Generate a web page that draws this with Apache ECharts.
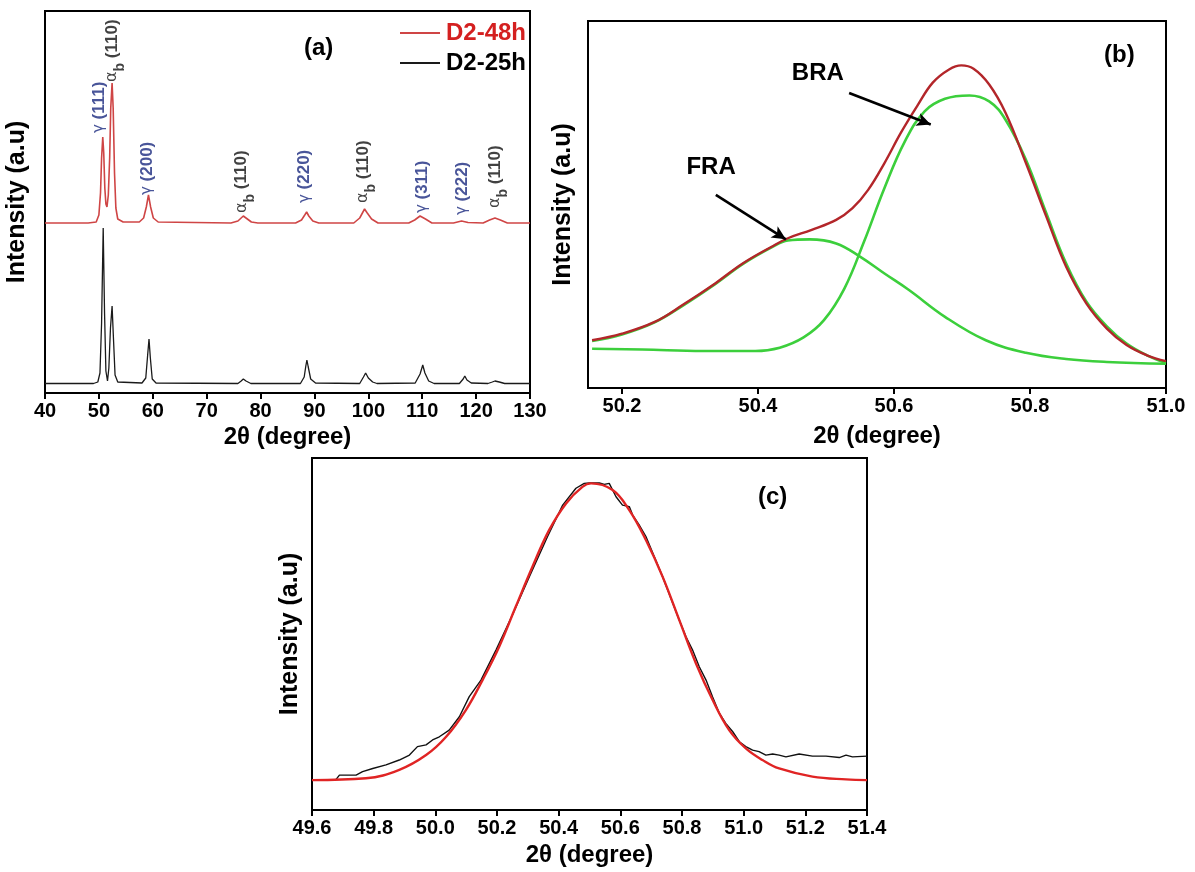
<!DOCTYPE html>
<html>
<head>
<meta charset="utf-8">
<title>XRD</title>
<script src="https://cdn.jsdelivr.net/npm/echarts@6/dist/echarts.min.js"></script>
<style>
  html, body { margin: 0; padding: 0; background: #fff; }
  #chart { width: 1195px; height: 872px; }
</style>
</head>
<body>
<div id="chart"></div>
<script>
// (a) XRD patterns, [2theta, intensity] with the 48h curve shifted up
const d2_48h = [[40,170],[48,170],[49.5,171],[50.0,178],[50.3,200],[50.5,235],[50.72,256],[50.9,240],[51.1,205],[51.3,189],[51.5,186],[51.75,198],[52.0,235],[52.2,285],[52.45,310],[52.65,285],[52.9,220],[53.15,185],[53.5,174],[54.5,171],[57.5,171],[58.3,175],[58.8,186],[59.2,198],[59.6,186],[60.1,175],[61,171],[74.5,170],[75.8,172],[76.4,175],[76.8,177],[77.3,175],[78.3,171],[79.5,170],[86.5,170],[87.6,173],[88.2,178],[88.55,181],[88.95,177],[89.7,172],[90.8,170],[97.3,170],[98.4,175],[99.0,181],[99.3,184],[99.8,180],[100.6,174],[101.8,170],[107.5,170],[108.6,173],[109.6,177],[110.6,174],[111.8,170],[115.8,170],[117.3,172],[118.5,170.5],[121.3,170],[122.5,173],[123.5,175],[124.5,173],[125.8,170],[130,170]];
const d2_25h = [[40,9.5],[49,9.5],[49.8,11],[50.2,20],[50.5,70],[50.8,165],[51.05,80],[51.3,22],[51.6,12],[51.85,25],[52.15,65],[52.45,87],[52.7,55],[53.0,18],[53.5,11],[58,10],[58.7,15],[59.05,38],[59.3,54],[59.55,35],[59.9,14],[60.6,10],[75.8,9.5],[76.4,12],[76.8,14],[77.3,12],[78.2,9.5],[87.4,9.5],[88.1,16],[88.4,27],[88.6,33],[88.85,26],[89.3,14],[90.2,10],[98.4,9.5],[99.1,16],[99.5,20],[100,15],[100.8,11],[101.6,9.5],[108.7,10],[109.6,19],[110.1,28],[110.5,20],[111.2,12],[112.2,9.5],[116.9,9.5],[117.6,14],[117.9,17],[118.3,13],[119.1,10],[122.2,9.5],[123.0,11],[123.5,12],[124.3,11],[125.3,9.5],[130,9.5]];

// peak labels: 2theta, foot of the label, phase, plane
const peakX = [50.0, 52.4, 58.9, 76.5, 88.2, 99.0, 110.0, 117.4, 123.5];
const peakY = [260, 311, 198, 180, 190, 190, 180, 178, 185];
const peakPhase = ['g', 'a', 'g', 'a', 'g', 'a', 'g', 'g', 'a'];
const peakPlane = ['(111)', '(110)', '(200)', '(110)', '(220)', '(110)', '(311)', '(222)', '(110)'];

// (b) peak separation
const bTotal = [[50.156,13.0],[50.200,14.8],[50.248,18.0],[50.289,22.6],[50.337,28.5],[50.378,34.0],[50.420,38.5],[50.444,40.8],[50.479,43.1],[50.515,45.8],[50.539,49.0],[50.562,54.0],[50.586,61.3],[50.610,69.5],[50.634,76.8],[50.657,83.2],[50.681,86.8],[50.699,87.9],[50.717,87.0],[50.740,82.7],[50.764,75.0],[50.794,61.3],[50.824,46.7],[50.853,33.1],[50.883,23.0],[50.913,16.2],[50.942,11.7],[50.972,8.9],[51.000,7.3]];
const bFRA = [[50.156,12.8],[50.200,14.6],[50.248,17.9],[50.289,22.4],[50.337,28.3],[50.378,33.8],[50.420,38.3],[50.444,40.2],[50.476,40.5],[50.515,39.4],[50.550,35.8],[50.586,31.2],[50.622,26.7],[50.675,19.4],[50.735,13.0],[50.794,9.6],[50.853,7.9],[50.913,7.1],[51.000,6.6]];
const bBRA = [[50.156,10.7],[50.230,10.5],[50.319,10.1],[50.396,10.1],[50.432,11.0],[50.467,13.8],[50.497,18.5],[50.527,27.1],[50.556,39.9],[50.586,54.5],[50.616,67.2],[50.645,75.4],[50.675,78.8],[50.711,79.7],[50.740,78.1],[50.764,73.1],[50.794,62.2],[50.824,47.6],[50.853,34.0],[50.883,23.5],[50.913,16.8],[50.942,12.1],[50.972,8.9],[51.000,6.8]];
const ticksB = [50.2, 50.4, 50.6, 50.8, 51.0];

// (c) measured profile and fit
const cMeasured = [[49.600,8.5],[49.678,8.7],[49.689,9.9],[49.743,9.9],[49.764,10.9],[49.797,11.8],[49.840,12.8],[49.883,14.2],[49.916,15.6],[49.942,18.0],[49.970,18.5],[49.991,19.9],[50.013,20.8],[50.045,22.7],[50.078,26.5],[50.110,32.2],[50.148,36.9],[50.197,45.5],[50.250,55.4],[50.305,66.3],[50.364,77.7],[50.413,86.6],[50.456,91.4],[50.483,92.8],[50.499,92.9],[50.532,92.9],[50.548,92.5],[50.564,92.8],[50.586,89.0],[50.607,86.6],[50.629,86.2],[50.640,83.8],[50.661,81.0],[50.683,77.7],[50.737,66.3],[50.791,54.0],[50.813,49.2],[50.834,45.5],[50.856,40.7],[50.878,36.9],[50.899,32.2],[50.921,27.5],[50.942,24.6],[50.964,22.3],[50.986,19.4],[51.007,18.0],[51.029,17.0],[51.050,16.6],[51.072,15.6],[51.094,15.9],[51.115,15.6],[51.137,15.1],[51.180,15.9],[51.223,15.3],[51.267,15.3],[51.310,14.9],[51.332,15.6],[51.353,15.1],[51.400,15.3]];
const cFit = [[49.600,8.5],[49.775,9.0],[49.883,11.4],[49.970,15.6],[50.035,20.8],[50.099,28.4],[50.153,36.9],[50.207,46.4],[50.261,57.8],[50.315,69.1],[50.369,79.5],[50.424,87.1],[50.477,91.8],[50.505,92.8],[50.575,90.9],[50.629,85.2],[50.683,76.7],[50.737,66.3],[50.791,54.0],[50.845,41.7],[50.899,31.3],[50.953,22.7],[51.007,17.5],[51.061,14.2],[51.115,11.8],[51.223,9.5],[51.332,8.7],[51.400,8.5]];

const FONT = "'Liberation Sans', Arial, sans-serif";
const CLEAR = 'rgba(0,0,0,0)';
const chart = echarts.init(document.getElementById('chart'));

function xAxisBase(gridIndex, min, max) {
  return {
    type: 'value', gridIndex: gridIndex, min: min, max: max,
    name: '2θ (degree)', nameLocation: 'middle', nameGap: 32,
    nameTextStyle: { fontFamily: FONT, fontWeight: 'bold', fontSize: 24, color: '#000' },
    axisLine: { show: true, onZero: false, lineStyle: { color: '#000', width: 2 } },
    axisTick: { show: true, inside: false, length: 6, lineStyle: { color: '#000', width: 2 } },
    axisLabel: { margin: 8, fontFamily: FONT, fontWeight: 'bold', fontSize: 20, color: '#000' },
    splitLine: { show: false }
  };
}
function yAxisBase(gridIndex, min, max, gap) {
  return {
    type: 'value', gridIndex: gridIndex, min: min, max: max,
    name: 'Intensity (a.u)', nameLocation: 'middle', nameGap: gap,
    nameTextStyle: { fontFamily: FONT, fontWeight: 'bold', fontSize: 25, color: '#000' },
    axisLine: { show: false }, axisTick: { show: false }, axisLabel: { show: false },
    splitLine: { show: false }
  };
}
const gridBox = { show: true, borderColor: '#000', borderWidth: 2, backgroundColor: 'transparent' };

const xA = xAxisBase(0, 40, 130);
xA.interval = 10;
const xB = xAxisBase(1, 50.15, 51.0);
xB.axisLabel.customValues = ticksB;
xB.axisTick.customValues = ticksB;
xB.axisLabel.formatter = v => v.toFixed(1);
xB.nameGap = 36;
const xC = xAxisBase(2, 49.6, 51.4);
xC.interval = 0.2;
xC.axisLabel.formatter = v => v.toFixed(1);
xC.nameGap = 33;

const labelData = peakX.map((x, i) => ({
  value: [x, peakY[i]],
  label: {
    formatter: peakPhase[i] === 'g'
      ? '{g|γ}{n| ' + peakPlane[i] + '}'
      : '{a|α}{s|b}{k| ' + peakPlane[i] + '}'
  }
}));

chart.setOption({
  animation: false,
  textStyle: { fontFamily: FONT },
  grid: [
    Object.assign({ left: 45, top: 11, width: 485, height: 382 }, gridBox),
    Object.assign({ left: 588, top: 21, width: 578, height: 367 }, gridBox),
    Object.assign({ left: 312, top: 458, width: 555, height: 352 }, gridBox)
  ],
  xAxis: [xA, xB, xC],
  yAxis: [yAxisBase(0, 0, 382, 15), yAxisBase(1, 0, 100, 12), yAxisBase(2, 0, 100, 9)],
  legend: {
    left: 395, top: 16, orient: 'vertical', itemWidth: 42, itemHeight: 2, itemGap: 6,
    icon: 'path://M0,0L40,0L40,2L0,2Z',
    textStyle: { fontFamily: FONT, fontWeight: 'bold', fontSize: 24, color: '#000' },
    data: [{ name: 'D2-48h', textStyle: { color: '#d42020' } }, { name: 'D2-25h' }]
  },
  graphic: [
    { type: 'text', left: 304, top: 36, style: { text: '(a)', font: 'bold 24px ' + FONT, fill: '#000' } },
    { type: 'text', left: 1104, top: 43, style: { text: '(b)', font: 'bold 24px ' + FONT, fill: '#000' } },
    { type: 'text', left: 758, top: 485, style: { text: '(c)', font: 'bold 24px ' + FONT, fill: '#000' } }
  ],
  series: [
    {
      name: 'D2-48h', type: 'line', xAxisIndex: 0, yAxisIndex: 0, data: d2_48h,
      symbol: 'none', lineStyle: { color: '#cf4545', width: 1.6 }, itemStyle: { color: '#cf4545' }
    },
    {
      name: 'D2-25h', type: 'line', xAxisIndex: 0, yAxisIndex: 0, data: d2_25h,
      symbol: 'none', lineStyle: { color: '#1a1a1a', width: 1.3 }, itemStyle: { color: '#1a1a1a' }
    },
    {
      name: 'peaks', type: 'scatter', xAxisIndex: 0, yAxisIndex: 0, data: labelData,
      symbolSize: 1, itemStyle: { color: CLEAR }, silent: true,
      label: {
        show: true, position: 'inside', rotate: 90, align: 'left', verticalAlign: 'middle',
        rich: {
          g: { fontFamily: 'DejaVu Sans', fontSize: 15, color: '#1c2a80', lineHeight: 20 },
          n: { fontFamily: FONT, fontWeight: 'bold', fontSize: 17, color: '#1c2a80', lineHeight: 20 },
          a: { fontFamily: 'DejaVu Sans', fontSize: 16, color: '#111', lineHeight: 20 },
          s: { fontFamily: FONT, fontWeight: 'bold', fontSize: 14, color: '#111', lineHeight: 30, verticalAlign: 'bottom' },
          k: { fontFamily: FONT, fontWeight: 'bold', fontSize: 17, color: '#111', lineHeight: 20 }
        }
      }
    },
    {
      name: 'FRA', type: 'line', xAxisIndex: 1, yAxisIndex: 1, data: bFRA, smooth: 0.4,
      symbol: 'none', lineStyle: { color: '#3ccf3c', width: 2.6 }
    },
    {
      name: 'BRA', type: 'line', xAxisIndex: 1, yAxisIndex: 1, data: bBRA, smooth: 0.4,
      symbol: 'none', lineStyle: { color: '#3ccf3c', width: 2.6 }
    },
    {
      name: 'total', type: 'line', xAxisIndex: 1, yAxisIndex: 1, data: bTotal, smooth: 0.4,
      symbol: 'none', lineStyle: { color: '#b3262a', width: 2.4 },
      markLine: {
        silent: true, symbol: ['none', 'arrow'], symbolSize: [10, 14],
        label: { show: false },
        lineStyle: { color: '#000', width: 2.6, type: 'solid' },
        data: [
          [{ coord: [50.534, 80.4] }, { coord: [50.654, 71.8] }],
          [{ coord: [50.338, 52.6] }, { coord: [50.441, 40.5] }]
        ]
      },
      markPoint: {
        silent: true, symbol: 'circle', symbolSize: 1, itemStyle: { color: CLEAR },
        label: { show: true, position: 'inside', fontFamily: FONT, fontWeight: 'bold', fontSize: 24, color: '#000', formatter: p => p.name },
        data: [
          { name: 'BRA', coord: [50.488, 85.6] },
          { name: 'FRA', coord: [50.331, 60.2] }
        ]
      }
    },
    {
      name: 'measured', type: 'line', xAxisIndex: 2, yAxisIndex: 2, data: cMeasured,
      symbol: 'none', lineStyle: { color: '#111', width: 1.4 }
    },
    {
      name: 'fit', type: 'line', xAxisIndex: 2, yAxisIndex: 2, data: cFit, smooth: 0.4,
      symbol: 'none', lineStyle: { color: '#e02424', width: 2.4 }
    }
  ]
});
</script>
</body>
</html>
